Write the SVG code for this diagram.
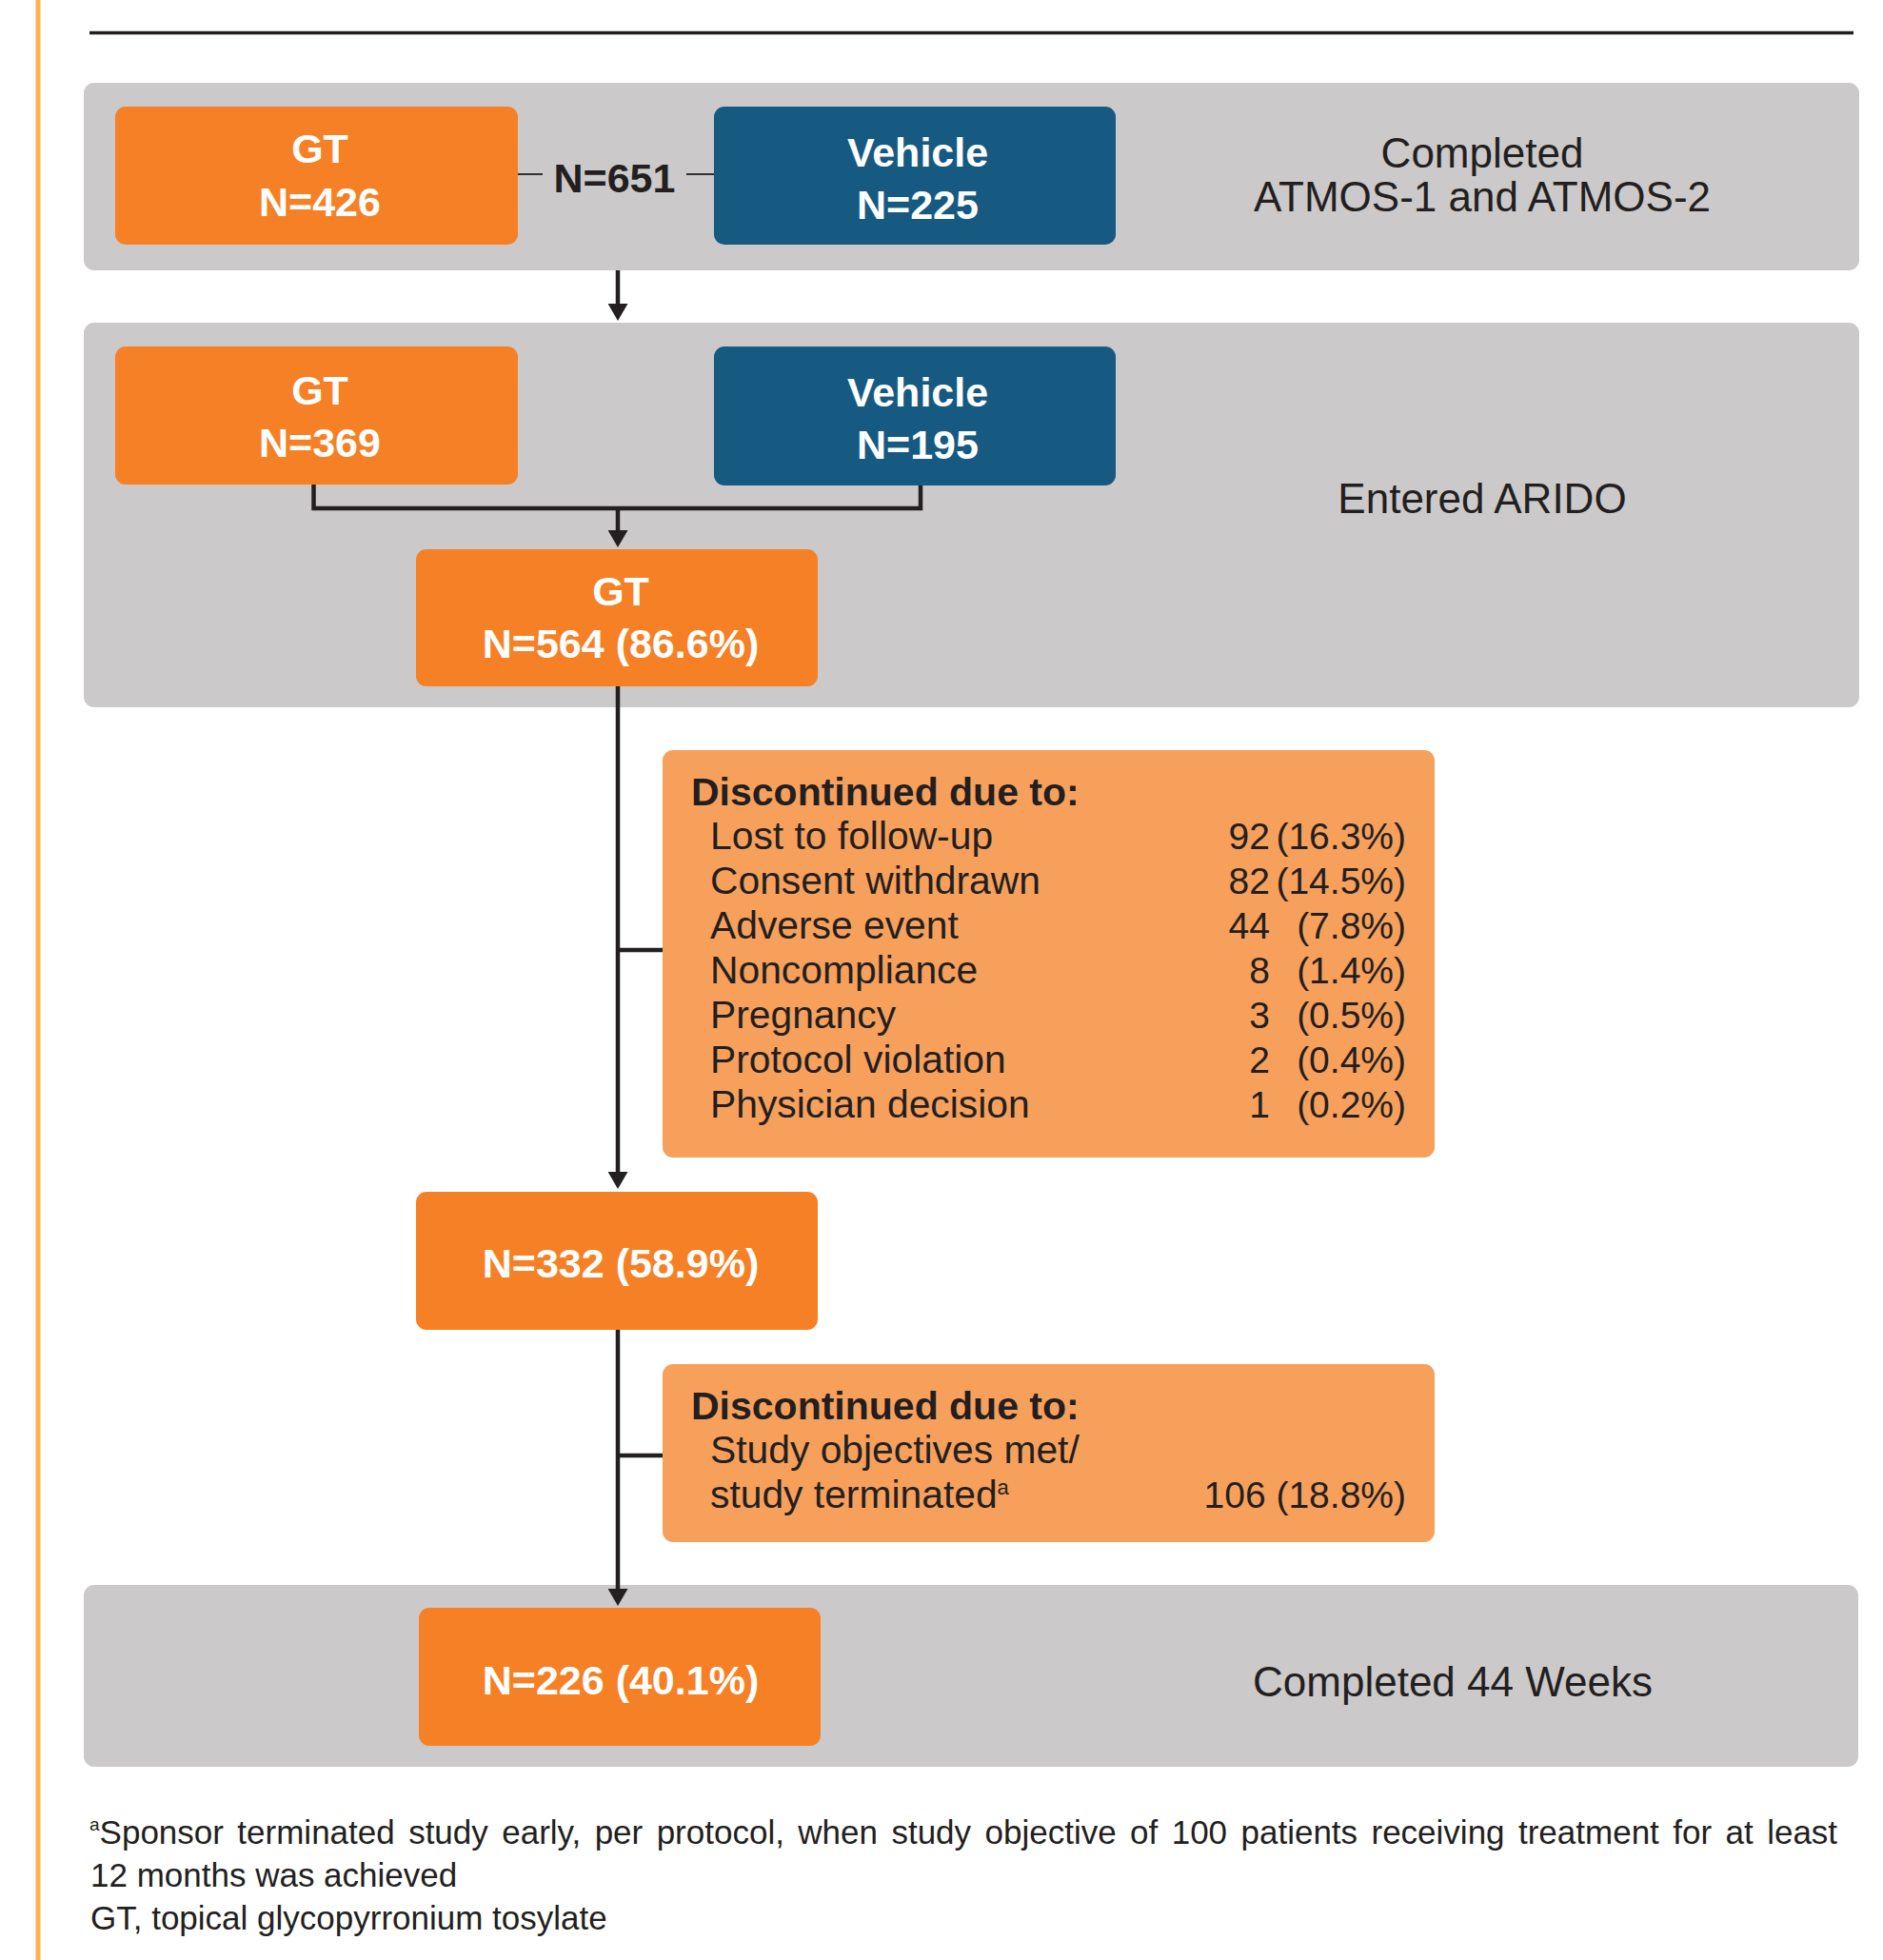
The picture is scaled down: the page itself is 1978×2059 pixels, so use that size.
<svg xmlns="http://www.w3.org/2000/svg" width="1978" height="2059" viewBox="0 0 1978 2059">
<style>
.panel{fill:#CBC9CA}
.gt{fill:#F58025}
.veh{fill:#165A82}
.disc{fill:#F7A05C}
.wt{font-family:"Liberation Sans",Arial,sans-serif;font-weight:bold;font-size:43px;fill:#FFFFFF;text-anchor:middle}
.lbl{font-family:"Liberation Sans",Arial,sans-serif;font-size:44px;fill:#231F20;text-anchor:middle}
.dh{font-family:"Liberation Sans",Arial,sans-serif;font-weight:bold;font-size:41px;fill:#231F20}
.di{font-family:"Liberation Sans",Arial,sans-serif;font-size:40.8px;fill:#231F20}
.de{text-anchor:end;font-size:39px}
.fn{font-family:"Liberation Sans",Arial,sans-serif;font-size:35px;fill:#231F20}
.ln{fill:none;stroke:#231F20;stroke-width:4.5}
.thin{fill:none;stroke:#231F20;stroke-width:1.8}
</style>
<defs>
<marker id="ah" markerUnits="userSpaceOnUse" markerWidth="18" markerHeight="21" viewBox="0 0 18 21" refX="4" refY="10.5" orient="auto">
<path d="M0,0 L18,10.5 L0,21 Z" fill="#231F20"/>
</marker>
</defs>
<rect width="1978" height="2059" fill="#FFFFFF"/>
<line x1="40" y1="0" x2="40" y2="2059" stroke="#FDB24F" stroke-width="5"/>
<line x1="94" y1="34.5" x2="1947" y2="34.5" stroke="#231F20" stroke-width="3.5"/>

<g id="panel-completed-atmos">
<rect class="panel" x="88" y="87" width="1865" height="197" rx="11"/>
<text class="lbl" x="1557" y="176">Completed</text>
<text class="lbl" x="1557" y="222">ATMOS-1 and ATMOS-2</text>
</g>
<g id="panel-entered-arido">
<rect class="panel" x="88" y="339" width="1865" height="404" rx="11"/>
<text class="lbl" x="1557" y="539">Entered ARIDO</text>
</g>
<g id="panel-completed-44">
<rect class="panel" x="88" y="1665" width="1864" height="191" rx="11"/>
<text class="lbl" x="1526" y="1782">Completed 44 Weeks</text>
</g>

<g id="gt-426">
<rect class="gt" x="121" y="112" width="423" height="145" rx="11"/>
<text class="wt" x="336" y="171">GT</text>
<text class="wt" x="336" y="227">N=426</text>
</g>
<g id="vehicle-225">
<rect class="veh" x="750" y="112" width="422" height="145" rx="11"/>
<text class="wt" x="964" y="175">Vehicle</text>
<text class="wt" x="964" y="230">N=225</text>
</g>
<g id="total-651">
<text class="wt" style="fill:#231F20" x="645.5" y="202">N=651</text>
</g>
<g id="gt-369">
<rect class="gt" x="121" y="364" width="423" height="145" rx="11"/>
<text class="wt" x="336" y="425">GT</text>
<text class="wt" x="336" y="480">N=369</text>
</g>
<g id="vehicle-195">
<rect class="veh" x="750" y="364" width="422" height="146" rx="11"/>
<text class="wt" x="964" y="427">Vehicle</text>
<text class="wt" x="964" y="482">N=195</text>
</g>
<g id="gt-564">
<rect class="gt" x="437" y="577" width="422" height="144" rx="11"/>
<text class="wt" x="652" y="636">GT</text>
<text class="wt" x="652" y="691">N=564 (86.6%)</text>
</g>
<g id="discontinued-1">
<rect class="disc" x="696" y="788" width="811" height="428" rx="11"/>
<text class="dh" x="726" y="846">Discontinued due to:</text>
<text class="di" x="746" y="892">Lost to follow-up</text>
<text class="di" x="746" y="939">Consent withdrawn</text>
<text class="di" x="746" y="986">Adverse event</text>
<text class="di" x="746" y="1033">Noncompliance</text>
<text class="di" x="746" y="1080">Pregnancy</text>
<text class="di" x="746" y="1127">Protocol violation</text>
<text class="di" x="746" y="1174">Physician decision</text>
<text class="di de" x="1334" y="892">92</text>
<text class="di de" x="1334" y="939">82</text>
<text class="di de" x="1334" y="986">44</text>
<text class="di de" x="1334" y="1033">8</text>
<text class="di de" x="1334" y="1080">3</text>
<text class="di de" x="1334" y="1127">2</text>
<text class="di de" x="1334" y="1174">1</text>
<text class="di de" x="1477" y="892">(16.3%)</text>
<text class="di de" x="1477" y="939">(14.5%)</text>
<text class="di de" x="1477" y="986">(7.8%)</text>
<text class="di de" x="1477" y="1033">(1.4%)</text>
<text class="di de" x="1477" y="1080">(0.5%)</text>
<text class="di de" x="1477" y="1127">(0.4%)</text>
<text class="di de" x="1477" y="1174">(0.2%)</text>
</g>
<g id="n-332">
<rect class="gt" x="437" y="1252" width="422" height="145" rx="11"/>
<text class="wt" x="652" y="1342">N=332 (58.9%)</text>
</g>
<g id="discontinued-2">
<rect class="disc" x="696" y="1433" width="811" height="187" rx="11"/>
<text class="dh" x="726" y="1491">Discontinued due to:</text>
<text class="di" x="746" y="1537">Study objectives met/</text>
<text class="di" x="746" y="1584">study terminated<tspan font-size="22" dy="-14">a</tspan></text>
<text class="di de" x="1477" y="1584">106 (18.8%)</text>
</g>
<g id="n-226">
<rect class="gt" x="440" y="1689" width="422" height="145" rx="11"/>
<text class="wt" x="652" y="1780">N=226 (40.1%)</text>
</g>

<g id="connectors">
<line class="thin" x1="544" y1="183" x2="570" y2="183"/>
<line class="thin" x1="721" y1="183" x2="750" y2="183"/>
<line class="ln" x1="649" y1="284" x2="649" y2="323" marker-end="url(#ah)"/>
<polyline class="ln" points="329.5,509 329.5,534 967,534 967,510"/>
<line class="ln" x1="649" y1="534" x2="649" y2="561" marker-end="url(#ah)"/>
<line class="ln" x1="649" y1="721" x2="649" y2="1235" marker-end="url(#ah)"/>
<line class="ln" x1="649" y1="998" x2="696" y2="998"/>
<line class="ln" x1="649" y1="1397" x2="649" y2="1673" marker-end="url(#ah)"/>
<line class="ln" x1="649" y1="1529" x2="696" y2="1529"/>
</g>

<g id="footnotes">
<text class="fn" x="94" y="1937" word-spacing="4.7"><tspan font-size="19" dy="-14">a</tspan><tspan dy="14">Sponsor terminated study early, per protocol, when study objective of 100 patients receiving treatment for at least</tspan></text>
<text class="fn" x="95" y="1982">12 months was achieved</text>
<text class="fn" x="95" y="2027">GT, topical glycopyrronium tosylate</text>
</g>
</svg>
